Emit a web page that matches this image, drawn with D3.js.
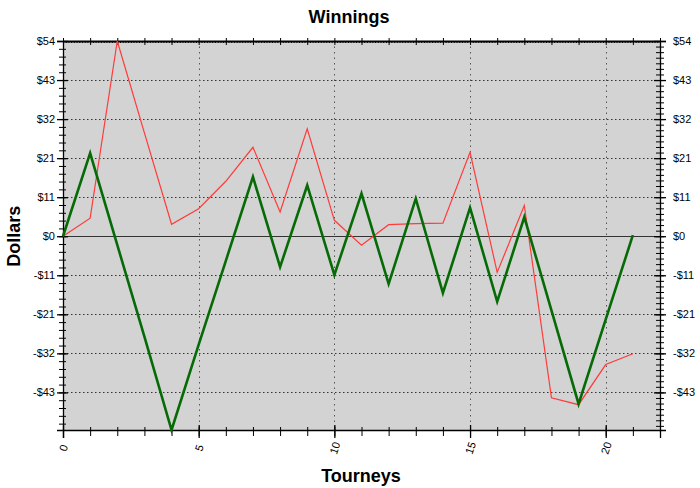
<!DOCTYPE html>
<html>
<head>
  <meta charset="utf-8">
  <style>
    body { margin: 0; background: #fff; }
    text { font-family: "Liberation Sans", Arial, sans-serif; }
    .axis path, .axis line { stroke: #000; }
  </style>
</head>
<body>
  <script src="https://cdn.jsdelivr.net/npm/d3@7"></script>
  <script>
    // data
    var tourneys = [0, 1, 2, 3, 4, 5, 6, 7, 8, 9, 10, 11, 12, 13, 14, 15, 16, 17, 18, 19, 20, 21];
    var redSeries = [0, 5, 54, 28.6, 3.3, 7.6, 15.2, 24.6, 6.7, 29.7, 4.4, -2.5, 3.2, 3.5, 3.6, 23.2, -10, 8.5, -44.7, -46.6, -35.5, -32.5];
    var greenSeries = [0, 23, -2.4, -27.8, -53.6, -30, -6.8, 16.4, -8.5, 14.1, -10.7, 11.8, -13.2, 10.4, -15.7, 7.9, -18.1, 5.3, -20.5, -46.4, -23, 0.3];

    var yTickValues = [-43.2, -32.4, -21.6, -10.8, 0, 10.8, 21.6, 32.4, 43.2, 54];
    var yTickLabels = ["-$43", "-$32", "-$21", "-$11", "$0", "$11", "$21", "$32", "$43", "$54"];
    var xTickValues = [0, 5, 10, 15, 20];
    var xTickLabels = ["0", "5", "10", "15", "20"];

    var global_width = 700, global_height = 488;
    var plot = {left: 63, top: 41, right: 660, bottom: 430};

    var x = d3.scaleLinear().domain([0, 22]).range([plot.left, plot.right]);
    var y = d3.scaleLinear().domain([-53.6, 54]).range([plot.bottom, plot.top]);

    var svg = d3.select("body").append("svg")
      .attr("width", global_width)
      .attr("height", global_height);

    // plot background
    svg.append("rect")
      .attr("x", plot.left).attr("y", plot.top)
      .attr("width", plot.right - plot.left)
      .attr("height", plot.bottom - plot.top)
      .attr("fill", "#d3d3d3");

    // grid lines
    svg.append("g").selectAll("line.hgrid")
      .data(yTickValues.filter(function(d) { return d !== 0; }))
      .enter().append("line")
      .attr("x1", plot.left).attr("x2", plot.right)
      .attr("y1", function(d) { return Math.round(y(d)) + 0.5; })
      .attr("y2", function(d) { return Math.round(y(d)) + 0.5; })
      .attr("stroke", "#333")
      .attr("stroke-dasharray", "1.5,2.5");

    svg.append("g").selectAll("line.vgrid")
      .data(xTickValues.slice(1))
      .enter().append("line")
      .attr("x1", function(d) { return Math.round(x(d)) + 0.5; })
      .attr("x2", function(d) { return Math.round(x(d)) + 0.5; })
      .attr("y1", plot.top).attr("y2", plot.bottom)
      .attr("stroke", "#555")
      .attr("stroke-dasharray", "1.5,4");

    // zero line
    svg.append("line")
      .attr("x1", plot.left).attr("x2", plot.right)
      .attr("y1", Math.round(y(0)) + 0.5).attr("y2", Math.round(y(0)) + 0.5)
      .attr("stroke", "#333").attr("stroke-width", 1.2);

    // minor tick values
    var yStep = yTickValues[1] - yTickValues[0];
    var yMinorLeft = d3.range(-53.6, 54.01, yStep / 5).map(function(d, i) { return 54 - i * yStep / 5; })
      .filter(function(d) { return d >= -53.7; });
    var yMinorRight = d3.range(0, 80).map(function(i) { return 54 - i * yStep / 7; })
      .filter(function(d) { return d >= -53.7; });
    var xMinor = d3.range(0, 23);
    var xTopMinor = d3.range(0, 221).map(function(i) { return i / 10; });

    // left axis
    var leftAxis = svg.append("g").attr("class", "axis")
      .attr("transform", "translate(" + plot.left + ",0)");
    leftAxis.call(d3.axisLeft(y).tickValues(yMinorLeft).tickSize(0).tickFormat(""));
    leftAxis.selectAll(".tick line").attr("x1", -4).attr("x2", 3);
    leftAxis.select(".domain").remove();
    var leftMajor = svg.append("g").attr("class", "axis")
      .attr("transform", "translate(" + plot.left + ",0)")
      .call(d3.axisLeft(y).tickValues(yTickValues)
        .tickFormat(function(d, i) { return yTickLabels[i]; }).tickSize(6).tickPadding(2));
    leftMajor.selectAll(".tick line").attr("x1", -6).attr("x2", 5).attr("stroke-width", 1.3);
    leftMajor.selectAll("text").attr("font-size", 11).attr("fill", "#000");
    leftMajor.select(".domain").attr("stroke-width", 1.3);

    // right axis
    var rightAxis = svg.append("g").attr("class", "axis")
      .attr("transform", "translate(" + plot.right + ",0)");
    rightAxis.call(d3.axisRight(y).tickValues(yMinorRight).tickSize(0).tickFormat(""));
    rightAxis.selectAll(".tick line").attr("x1", -4).attr("x2", 4);
    rightAxis.select(".domain").remove();
    var rightMajor = svg.append("g").attr("class", "axis")
      .attr("transform", "translate(" + plot.right + ",0)")
      .call(d3.axisRight(y).tickValues(yTickValues)
        .tickFormat(function(d, i) { return yTickLabels[i]; }).tickSize(6).tickPadding(7));
    rightMajor.selectAll(".tick line").attr("x1", -6).attr("x2", 6).attr("stroke-width", 1.3);
    rightMajor.selectAll("text").attr("font-size", 11).attr("fill", "#000");
    rightMajor.select(".domain").attr("stroke-width", 1.3);

    // top axis (ruler style)
    var topAxis = svg.append("g").attr("class", "axis")
      .attr("transform", "translate(0," + plot.top + ")");
    topAxis.call(d3.axisTop(x).tickValues(xTopMinor).tickSize(0).tickFormat(""));
    topAxis.selectAll(".tick line").attr("y1", 0).attr("y2", 2).attr("stroke", "#666");
    topAxis.select(".domain").attr("stroke", "#777").attr("stroke-width", 2);
    var topMajor = svg.append("g").attr("class", "axis")
      .attr("transform", "translate(0," + plot.top + ")")
      .call(d3.axisTop(x).tickValues(xMinor).tickSize(0).tickFormat(""));
    topMajor.selectAll(".tick line").attr("y1", -3).attr("y2", 4).attr("stroke", "#555");
    topMajor.select(".domain").remove();

    // bottom axis
    var bottomMinor = svg.append("g").attr("class", "axis")
      .attr("transform", "translate(0," + plot.bottom + ")")
      .call(d3.axisBottom(x).tickValues(xMinor).tickSize(0).tickFormat(""));
    bottomMinor.selectAll(".tick line").attr("y1", -3).attr("y2", 6);
    bottomMinor.select(".domain").remove();
    var bottomMajor = svg.append("g").attr("class", "axis")
      .attr("transform", "translate(0," + plot.bottom + ")")
      .call(d3.axisBottom(x).tickValues(xTickValues)
        .tickFormat(function(d, i) { return xTickLabels[i]; }).tickSize(8));
    bottomMajor.selectAll(".tick line").attr("y1", -5).attr("y2", 8).attr("stroke-width", 1.3);
    bottomMajor.select(".domain").attr("stroke-width", 1.3);
    bottomMajor.selectAll("text")
      .attr("font-size", 11).attr("fill", "#000")
      .attr("y", 0).attr("dy", "0.35em")
      .attr("text-anchor", "middle")
      .attr("transform", "translate(0,18) rotate(-72)");

    // lines
    var line = function(series) {
      return d3.line()
        .x(function(d, i) { return x(tourneys[i]); })
        .y(function(d) { return y(d); })(series);
    };

    svg.append("path")
      .attr("d", line(redSeries))
      .attr("fill", "none")
      .attr("stroke", "#ff3b3b")
      .attr("stroke-width", 1.2)
      .attr("stroke-linejoin", "miter");

    svg.append("path")
      .attr("d", line(greenSeries))
      .attr("fill", "none")
      .attr("stroke", "#066b06")
      .attr("stroke-width", 2.6)
      .attr("stroke-linejoin", "miter");

    // titles
    svg.append("text")
      .attr("x", 349).attr("y", 23)
      .attr("text-anchor", "middle")
      .attr("font-size", 18).attr("font-weight", "bold")
      .text("Winnings");

    svg.append("text")
      .attr("transform", "translate(20," + y(0) + ") rotate(-90)")
      .attr("text-anchor", "middle")
      .attr("font-size", 18).attr("font-weight", "bold")
      .text("Dollars");

    svg.append("text")
      .attr("x", 361).attr("y", 482)
      .attr("text-anchor", "middle")
      .attr("font-size", 18).attr("font-weight", "bold")
      .text("Tourneys");
  </script>
</body>
</html>
